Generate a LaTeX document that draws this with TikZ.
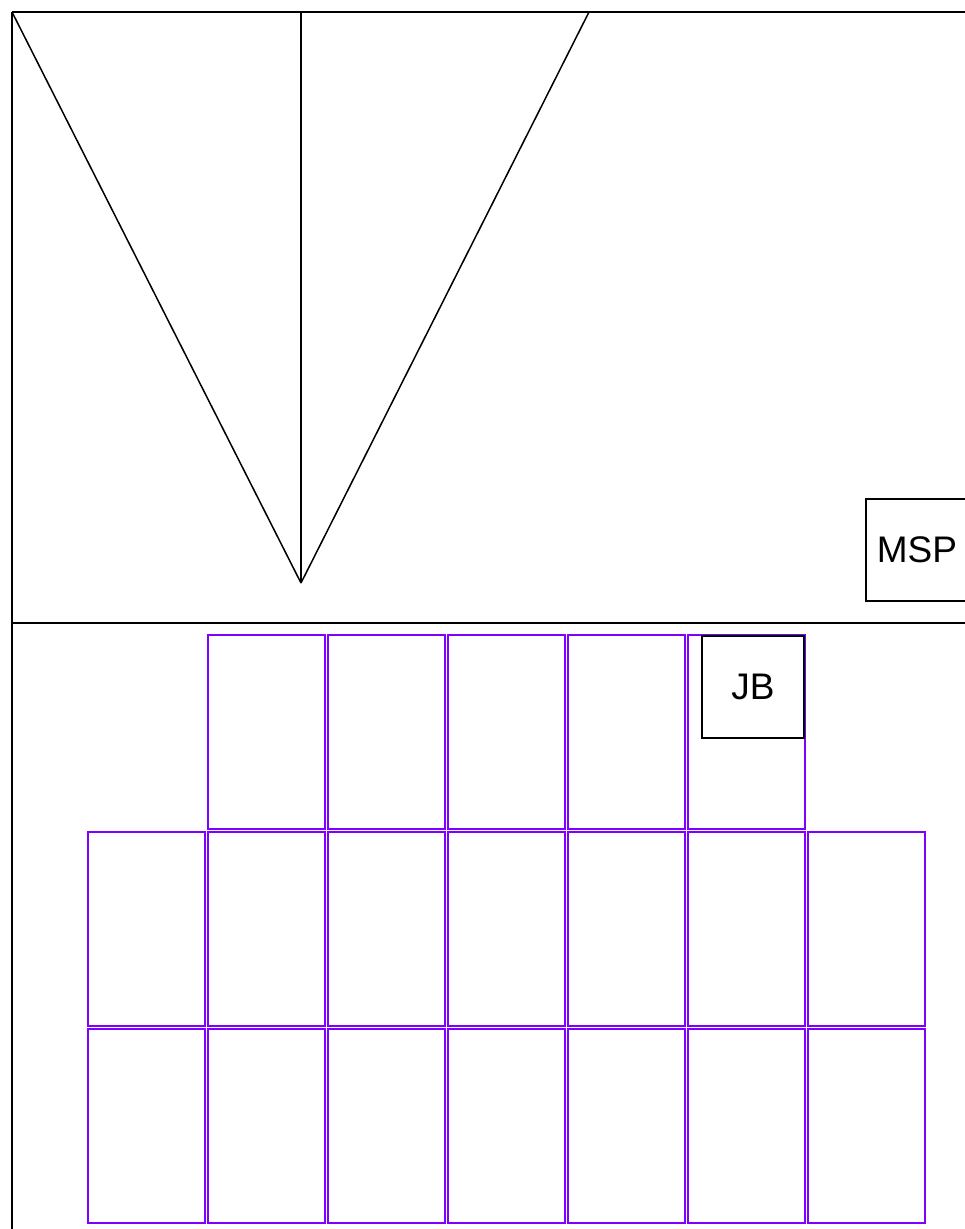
\documentclass[tikz,border=0pt]{standalone}
\usepackage{fontspec}
\setmainfont{Liberation Sans}
\definecolor{panelviolet}{HTML}{8000FF}
\tikzset{
  frame/.style={line width=1.5pt, black},
  panel/.style={draw=panelviolet, line width=2pt, rectangle, inner sep=0pt,
    minimum width=117pt, minimum height=194pt},
  tag/.style={draw, line width=1.5pt, rectangle, inner sep=0pt,
    minimum width=102pt, minimum height=102pt, font=\fontsize{37}{40}\selectfont}
}
\begin{document}
\begin{tikzpicture}[x=1pt, y=-1pt]
  \useasboundingbox (0,0) rectangle (964,1229);
  \fill[white] (0,0) rectangle (964,1229);
  % outline of the roof and ground
  \coordinate (tl) at (12,12);
  \coordinate (tr) at (966,12);
  \coordinate (bl) at (12,1231);
  \coordinate (ml) at (12,623);
  \coordinate (mr) at (966,623);
  \coordinate (apex) at (301,583);
  \coordinate (top) at (301,12);
  \coordinate (topr) at (589,12);
  \begin{scope}[frame]
    \draw (tl) -- (tr);
    \draw (tl) -- (bl);
    \draw (ml) -- (mr);
    \draw (tl) -- (apex);
    \draw (top) -- (apex);
    \draw (topr) -- (apex);
  \end{scope}
  % panels
  \draw
    (266.5,732) node[panel] (a2){}
    (386.5,732) node[panel] (a3){}
    (506.5,732) node[panel] (a4){}
    (626.5,732) node[panel] (a5){}
    (746.5,732) node[panel] (a6){}
    (146.5,929) node[panel] (b1){}
    (266.5,929) node[panel] (b2){}
    (386.5,929) node[panel] (b3){}
    (506.5,929) node[panel] (b4){}
    (626.5,929) node[panel] (b5){}
    (746.5,929) node[panel] (b6){}
    (866.5,929) node[panel] (b7){}
    (146.5,1126) node[panel] (c1){}
    (266.5,1126) node[panel] (c2){}
    (386.5,1126) node[panel] (c3){}
    (506.5,1126) node[panel] (c4){}
    (626.5,1126) node[panel] (c5){}
    (746.5,1126) node[panel] (c6){}
    (866.5,1126) node[panel] (c7){};
  % boxes
  \draw
    (753,687) node[tag] (jb){JB}
    (917,550) node[tag] (msp){MSP};
\end{tikzpicture}
\end{document}
